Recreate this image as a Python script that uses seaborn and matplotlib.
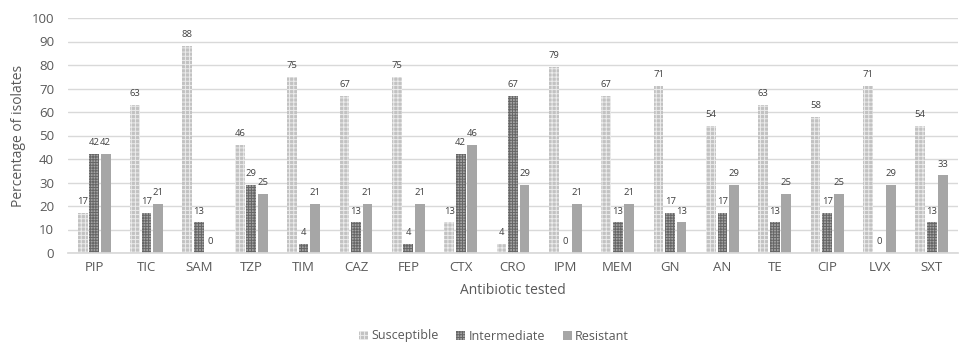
import matplotlib
matplotlib.use("Agg")
import matplotlib.pyplot as plt
import seaborn as sns
import pandas as pd
from matplotlib.patches import Patch

antibiotics = ["PIP", "TIC", "SAM", "TZP", "TIM", "CAZ", "FEP", "CTX", "CRO",
               "IPM", "MEM", "GN", "AN", "TE", "CIP", "LVX", "SXT"]
susceptible = [17, 63, 88, 46, 75, 67, 75, 13, 4, 79, 67, 71, 54, 63, 58, 71, 54]
intermediate = [42, 17, 13, 29, 4, 13, 4, 42, 67, 0, 13, 17, 17, 13, 17, 0, 13]
resistant = [42, 21, 0, 25, 21, 21, 21, 46, 29, 21, 21, 13, 29, 25, 25, 29, 33]
categories = ["Susceptible", "Intermediate", "Resistant"]

rows = []
for cat, vals in zip(categories, [susceptible, intermediate, resistant]):
    for ab, v in zip(antibiotics, vals):
        rows.append({"Antibiotic": ab, "Category": cat, "Value": v})
df = pd.DataFrame(rows)

sns.set_theme(style="white")
plt.rcParams["font.family"] = ["Open Sans", "DejaVu Sans"]
plt.rcParams["hatch.linewidth"] = 0.7
text_color = "#595959"

styles = {
    "Susceptible": dict(face="#c2c2c2", hatch="++++", edge="#ececec"),
    "Intermediate": dict(face="#a4a4a4", hatch="++++++", edge="#666666"),
    "Resistant": dict(face="#a6a6a6", hatch="", edge="#a6a6a6"),
}

fig = plt.figure(figsize=(9.62, 3.43), dpi=100)
ax = fig.add_axes([68 / 962, 1 - 253 / 343, 890 / 962, 235 / 343])

sns.barplot(data=df, x="Antibiotic", y="Value", hue="Category",
            hue_order=categories, order=antibiotics, width=0.66, gap=0.15,
            ax=ax, legend=False, saturation=1)

for container, cat in zip(ax.containers, categories):
    st = styles[cat]
    for bar in container:
        bar.set_facecolor(st["face"])
        bar.set_hatch(st["hatch"])
        bar.set_edgecolor(st["edge"])
        bar.set_linewidth(0)
    ax.bar_label(container, labels=[f"{v:.0f}" for v in container.datavalues],
                 padding=5, fontsize=6.8, color="#404040")

ax.set_ylim(0, 100)
ax.set_yticks(range(0, 101, 10))
ax.yaxis.grid(True, color="#d9d9d9", linewidth=1)
ax.set_axisbelow(True)
for s in ["top", "right", "left"]:
    ax.spines[s].set_visible(False)
ax.spines["bottom"].set_color("#d9d9d9")
ax.tick_params(axis="both", length=0, labelsize=9.5, labelcolor=text_color, pad=6)
ax.tick_params(axis="y", pad=10)
ax.set_xlabel("Antibiotic tested", fontsize=10, color=text_color, labelpad=6)
ax.set_ylabel("Percentage of isolates", fontsize=10, color=text_color, labelpad=4)

handles = [Patch(facecolor=styles[c]["face"], hatch=styles[c]["hatch"],
                 edgecolor=styles[c]["edge"], linewidth=0, label=c)
           for c in categories]
fig.legend(handles=handles, loc="center", bbox_to_anchor=(494 / 962, 1 - 336 / 343),
           ncol=3, frameon=False, fontsize=9, handlelength=0.7, handleheight=0.7,
           handletextpad=0.3, columnspacing=1.4, labelcolor=text_color)

fig.savefig("out.png", dpi=100)
